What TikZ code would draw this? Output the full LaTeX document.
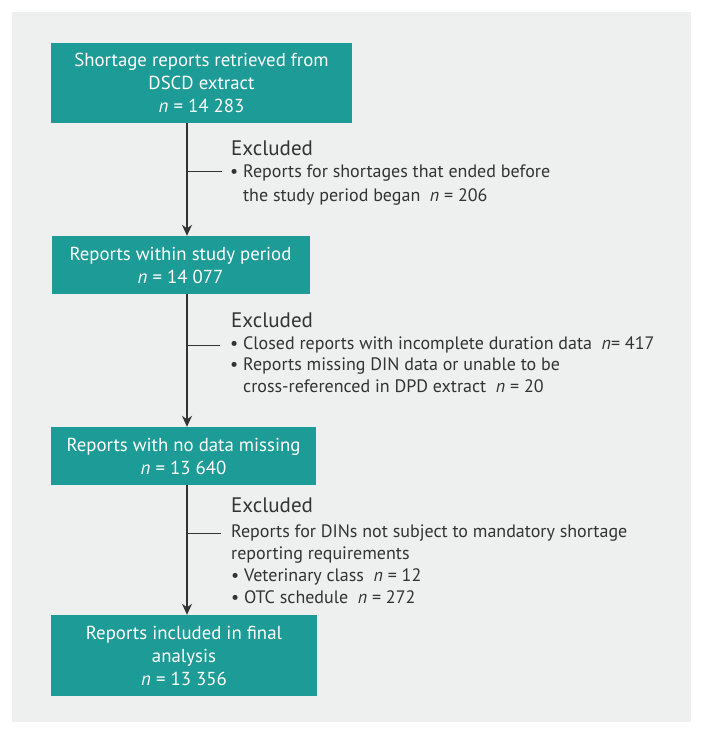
\documentclass[tikz,border=0pt]{standalone}
\usepackage{fontspec}
\setmainfont{PT Sans}
\usetikzlibrary{arrows.meta,positioning,calc}
\definecolor{boxteal}{RGB}{29,155,150}
\definecolor{panelgrey}{RGB}{238,239,239}
\definecolor{inkgrey}{RGB}{51,51,51}
\tikzset{
  stagebox/.style={fill=boxteal, text=white, align=center, inner sep=0pt,
    font=\fontsize{18.8}{23}\selectfont},
  exclhead/.style={anchor=base west, text=inkgrey, inner sep=0pt,
    font=\fontsize{21}{24}\selectfont},
  exclbody/.style={anchor=base west, text=inkgrey, align=left, inner sep=0pt,
    font=\fontsize{18}{22}\selectfont},
  flowline/.style={draw=inkgrey, line width=1.4pt},
}
\newcommand{\bul}{\textbullet\ }
\newcommand{\ind}{\phantom{\bul}}

\begin{document}
\begin{tikzpicture}[x=1pt,y=-1pt]
\useasboundingbox (0,0) rectangle (703,735);
\fill[panelgrey] (12,12) rectangle (691,722);
\coordinate (spine) at (187,0);
% boxes
\node[stagebox, minimum width=301pt, minimum height=80pt] (retrieved) at (201.5,83)
  {Shortage reports retrieved from\\DSCD extract\\\textit{n} = 14~283};
\node[stagebox, minimum width=258pt, minimum height=58pt] (period) at (180.5,265)
  {Reports within study period\\\textit{n} = 14~077};
\node[stagebox, minimum width=265pt, minimum height=58pt] (complete) at (183.5,456)
  {Reports with no data missing\\\textit{n} = 13~640};
\node[stagebox, minimum width=266pt, minimum height=81pt] (final) at (184,655.5)
  {Reports included in final\\analysis\\\textit{n} = 13~356};
% exclusions (base = last line)
\node[exclhead] (exone) at (231,156) {Excluded};
\node[exclbody, font=\fontsize{18}{23}\selectfont] (exonebody) at (230,201)
  {\bul Reports for shortages that ended before\\\ind the study period began~~\textit{n} = 206};
\node[exclhead] (extwo) at (231,327) {Excluded};
\node[exclbody, font=\fontsize{18}{21.5}\selectfont] (extwobody) at (230,392)
  {\bul Closed reports with incomplete duration data~~\textit{n}= 417\\
   \bul Reports missing DIN data or unable to be\\
   \ind cross-referenced in DPD extract~~\textit{n} = 20};
\node[exclhead] (exthree) at (231,512) {Excluded};
\node[exclbody] (exthreebody) at (231,603)
  {Reports for DINs not subject to mandatory shortage\\
   reporting requirements\\
   \bul Veterinary class~~\textit{n} = 12\\
   \bul OTC schedule~~\textit{n} = 272};
\coordinate (brone) at (222,172);
\coordinate (brtwo) at (220,345);
\coordinate (brthree) at (221,533);
% connectors
\draw[flowline, -{Stealth[length=11pt,width=10pt]}] (spine |- retrieved.south) -- (spine |- period.north);
\draw[flowline, -{Stealth[length=11pt,width=10pt]}] (spine |- period.south) -- (spine |- complete.north);
\draw[flowline, -{Stealth[length=11pt,width=10pt]}] (spine |- complete.south) -- (spine |- final.north);
\draw[flowline, line width=1pt] (spine |- brone) -- (brone);
\draw[flowline, line width=1pt] (spine |- brtwo) -- (brtwo);
\draw[flowline, line width=1pt] (spine |- brthree) -- (brthree);
\end{tikzpicture}
\end{document}
